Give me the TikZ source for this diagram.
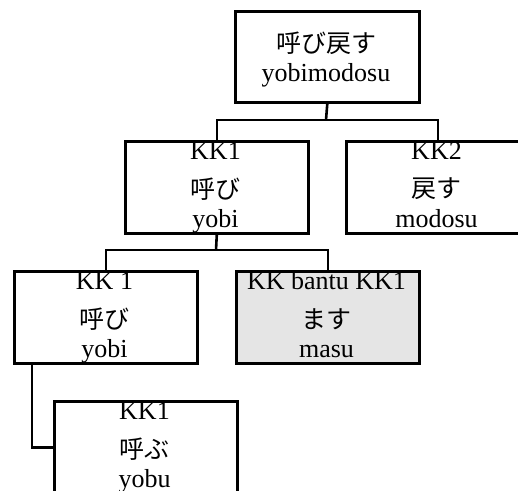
\documentclass[tikz,border=0pt]{standalone}
\usepackage{fontspec}
\setmainfont{Liberation Serif}
\newfontfamily\jp{Noto Sans CJK JP}
\begin{document}
\begin{tikzpicture}[x=1pt,y=-1pt,
  box/.style={draw=black,line width=2.6pt,minimum width=183pt,minimum height=92pt,inner sep=0pt,anchor=north west},
  link/.style={draw=black,line width=2.6pt},
  lat/.style={font=\fontsize{26}{26}\selectfont,anchor=base,inner sep=0pt},
  jap/.style={font=\jp\fontsize{25}{25}\selectfont,anchor=center,inner sep=0pt}]
\useasboundingbox (0,0) rectangle (518,490);
\begin{scope}
\clip (0,0) rectangle (518,490);
% boxes
\node[box,minimum width=184pt,minimum height=91pt] (root) at (234,10) {};
\node[box] (kk1) at (124,140) {};
\node[box] (kk2) at (345,140) {};
\node[box] (kk1b) at (13,270) {};
\node[box,fill=black!10] (aux) at (235,270) {};
\node[box] (kk1c) at (53,400) {};
% connectors
\coordinate (j1) at (326,120);
\coordinate (j2) at (216,250);
\coordinate (s3) at (32,362);
\draw[link] (root.south) -- (j1);
\draw[link] (kk1.north) |- (j1) -| (kk2.north);
\draw[link] (kk1.south) -- (j2);
\draw[link] (kk1b.north) |- (j2) -| (aux.north);
\draw[link] (s3) |- (kk1c.west);
% texts
\node[jap] (t0a) at (326,43) {呼び戻す};
\node[lat] (t0b) at (326,81) {yobimodosu};
\node[lat] (t1a) at (215.5,159) {KK1};
\node[jap] (t1b) at (215.5,189) {呼び};
\node[lat] (t1c) at (215.5,227) {yobi};
\node[lat] (t2a) at (436.5,159) {KK2};
\node[jap] (t2b) at (436.5,189) {戻す};
\node[lat] (t2c) at (436.5,227) {modosu};
\node[lat] (t3a) at (104.5,289) {KK 1};
\node[jap] (t3b) at (104.5,319) {呼び};
\node[lat] (t3c) at (104.5,357) {yobi};
\node[lat] (t4a) at (326.5,289) {KK bantu KK1};
\node[jap] (t4b) at (326.5,319) {ます};
\node[lat] (t4c) at (326.5,357) {masu};
\node[lat] (t5a) at (144.5,419) {KK1};
\node[jap] (t5b) at (144.5,449) {呼ぶ};
\node[lat] (t5c) at (144.5,487) {yobu};
\end{scope}
\end{tikzpicture}
\end{document}
